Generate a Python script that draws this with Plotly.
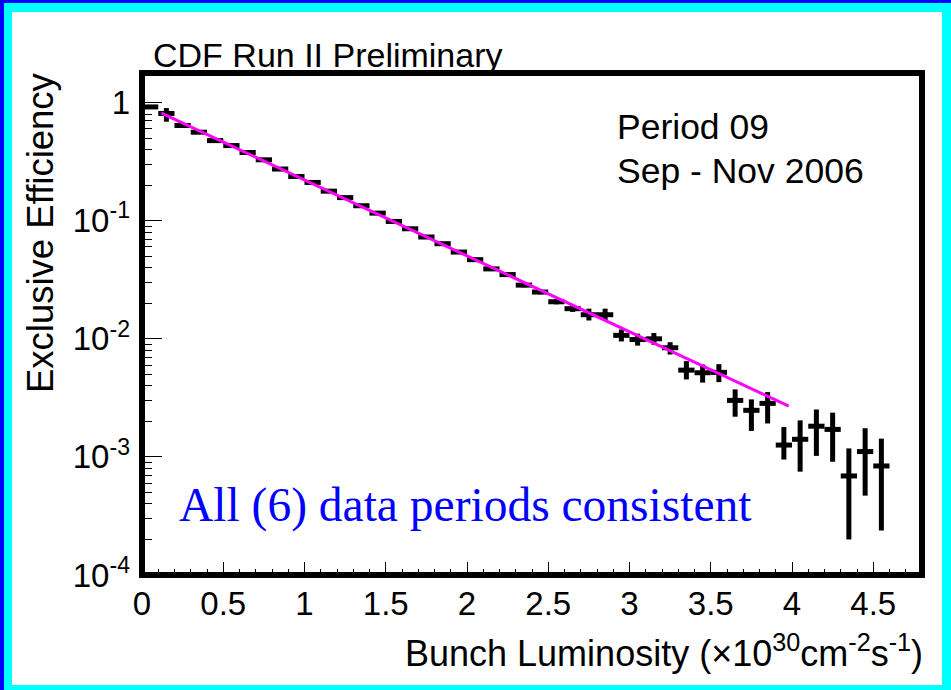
import plotly.graph_objects as go

# ---- data ----
lum = [0.05, 0.15, 0.25, 0.35, 0.45, 0.55, 0.65, 0.75, 0.85, 0.95,
       1.05, 1.15, 1.25, 1.35, 1.45, 1.55, 1.65, 1.75, 1.85, 1.95,
       2.05, 2.15, 2.25, 2.35, 2.45, 2.55, 2.65, 2.75, 2.85, 2.95,
       3.05, 3.15, 3.25, 3.35, 3.45, 3.55, 3.65, 3.75, 3.85, 3.95,
       4.05, 4.15, 4.25, 4.35, 4.45, 4.55]
eff = [0.92, 0.81, 0.64, 0.562, 0.477, 0.433, 0.378, 0.328, 0.274, 0.237,
       0.211, 0.178, 0.157, 0.134, 0.116, 0.0986, 0.0855, 0.0728, 0.0639, 0.0543,
       0.0468, 0.0391, 0.035, 0.0285, 0.0249, 0.0206, 0.018, 0.016, 0.016, 0.0107,
       0.00986, 0.0100, 0.0084, 0.00543, 0.00516, 0.0052, 0.00301, 0.00248, 0.00284, 0.00126,
       0.00141, 0.00182, 0.00171, 0.00069, 0.00111, 0.000838]
err_up = [0.02, 0.09, 0.015, 0.012, 0.01, 0.009, 0.008, 0.007, 0.006, 0.005,
          0.005, 0.004, 0.004, 0.0035, 0.003, 0.0028, 0.0025, 0.0022, 0.002, 0.0018,
          0.0016, 0.0014, 0.0013, 0.0012, 0.0011, 0.001, 0.0012, 0.002, 0.002, 0.0013,
          0.0012, 0.0012, 0.00096, 0.00104, 0.0009, 0.0009, 0.00072, 0.00059, 0.0007, 0.00053,
          0.00063, 0.0007, 0.00066, 0.00049, 0.00064, 0.00059]
err_dn = [0.02, 0.12, 0.015, 0.012, 0.01, 0.009, 0.008, 0.007, 0.006, 0.005,
          0.005, 0.004, 0.004, 0.0035, 0.003, 0.0028, 0.0025, 0.0022, 0.002, 0.0018,
          0.0016, 0.0014, 0.0013, 0.0012, 0.0011, 0.001, 0.0011, 0.0017, 0.0017, 0.0012,
          0.0011, 0.0011, 0.00103, 0.0009, 0.0009, 0.0009, 0.00082, 0.00082, 0.00092, 0.00031,
          0.00066, 0.0008, 0.0008, 0.00049, 0.00064, 0.0006]
bin_half_width = 0.05

# exponential fit line endpoints (straight on log axis)
fit_x = [0.12, 3.98]
fit_y = [0.814, 0.00269]

x_ticks = [0, 0.5, 1, 1.5, 2, 2.5, 3, 3.5, 4, 4.5]
x_ticktext = ["0", "0.5", "1", "1.5", "2", "2.5", "3", "3.5", "4", "4.5"]
y_ticks = [1e-4, 1e-3, 1e-2, 1e-1, 1]
y_ticktext = ["10<sup>-4</sup>", "10<sup>-3</sup>", "10<sup>-2</sup>", "10<sup>-1</sup>", "1"]

# ---- layout geometry (pixels) ----
W_FIG, H_FIG = 951, 690
ML, MR, MT, MB = 142, 29, 73, 115
PW = W_FIG - ML - MR
PH = H_FIG - MT - MB


def px(x):
    return (x - ML) / PW


def py(y):
    return (H_FIG - MB - y) / PH


SANS = "Liberation Sans, Arial, Helvetica, sans-serif"
SERIF = "Liberation Serif, Times New Roman, serif"

fig = go.Figure()

fig.add_trace(go.Scatter(
    x=lum, y=eff, mode="markers",
    marker=dict(size=1, color="black"),
    error_x=dict(type="constant", value=bin_half_width, thickness=5, width=0, color="black"),
    error_y=dict(type="data", array=err_up, arrayminus=err_dn, symmetric=False,
                 thickness=5, width=0, color="black"),
    showlegend=False, hoverinfo="skip",
))
fig.add_trace(go.Scatter(
    x=fit_x, y=fit_y, mode="lines",
    line=dict(color="#FF00FF", width=3),
    showlegend=False, hoverinfo="skip",
))

shapes = [
    # white page inside the cyan/blue border
    dict(type="rect", xref="paper", yref="paper", layer="below",
         x0=px(12), x1=px(942), y0=py(685), y1=py(12),
         fillcolor="white", line=dict(width=0)),
    # blue top and left edges
    dict(type="rect", xref="paper", yref="paper", layer="below",
         x0=px(0), x1=px(951), y0=py(3), y1=py(0),
         fillcolor="#0000FF", line=dict(width=0)),
    dict(type="rect", xref="paper", yref="paper", layer="below",
         x0=px(0), x1=px(4), y0=py(690), y1=py(0),
         fillcolor="#0000FF", line=dict(width=0)),
    # frame
    dict(type="rect", xref="paper", yref="paper", layer="above",
         x0=0, x1=1, y0=0, y1=1,
         line=dict(color="black", width=6)),
]

annotations = [
    dict(text="CDF Run II Preliminary", xref="paper", yref="paper",
         x=px(151), y=py(55), xanchor="left", yanchor="middle", showarrow=False,
         font=dict(family=SANS, size=34, color="black")),
    dict(text="Period 09", xref="paper", yref="paper",
         x=px(615), y=py(127), xanchor="left", yanchor="middle", showarrow=False,
         font=dict(family=SANS, size=35.5, color="black")),
    dict(text="Sep - Nov 2006", xref="paper", yref="paper",
         x=px(615), y=py(171), xanchor="left", yanchor="middle", showarrow=False,
         font=dict(family=SANS, size=35.5, color="black")),
    dict(text="All (6) data periods consistent", xref="paper", yref="paper",
         x=px(177), y=py(505), xanchor="left", yanchor="middle", showarrow=False,
         font=dict(family=SERIF, size=47.5, color="#0000FF")),
    dict(text="Bunch Luminosity (\u00d710<sup>30</sup>cm<sup>-2</sup>s<sup>-1</sup>)",
         xref="paper", yref="paper",
         x=px(925), y=py(651), xanchor="right", yanchor="middle", showarrow=False,
         font=dict(family=SANS, size=36, color="black")),
    dict(text="Exclusive Efficiency", xref="paper", yref="paper", textangle=-90,
         x=px(40), y=py(233), xanchor="center", yanchor="middle", showarrow=False,
         font=dict(family=SANS, size=36.5, color="black")),
]

fig.update_layout(
    width=W_FIG, height=H_FIG,
    margin=dict(l=ML, r=MR, t=MT, b=MB, pad=0),
    paper_bgcolor="#00FFFF", plot_bgcolor="white",
    shapes=shapes, annotations=annotations,
    showlegend=False,
    xaxis=dict(range=[0, 4.8], showgrid=False, zeroline=False, showline=False,
               tickvals=x_ticks, ticktext=x_ticktext,
               ticks="inside", ticklen=13, tickwidth=1, tickcolor="black",
               minor=dict(dtick=0.1, ticks="inside", ticklen=6, tickwidth=1,
                          tickcolor="black", showgrid=False),
               tickfont=dict(family=SANS, size=33, color="black"),
               ticklabelstandoff=6),
    yaxis=dict(type="log", range=[-4, 0.251], showgrid=False, zeroline=False, showline=False,
               tickvals=y_ticks, ticktext=y_ticktext,
               ticks="inside", ticklen=20, tickwidth=1, tickcolor="black",
               minor=dict(dtick="D1", ticks="inside", ticklen=10, tickwidth=1,
                          tickcolor="black", showgrid=False),
               tickfont=dict(family=SANS, size=33, color="black"),
               ticklabelstandoff=11),
)

fig.write_html("out.html")
